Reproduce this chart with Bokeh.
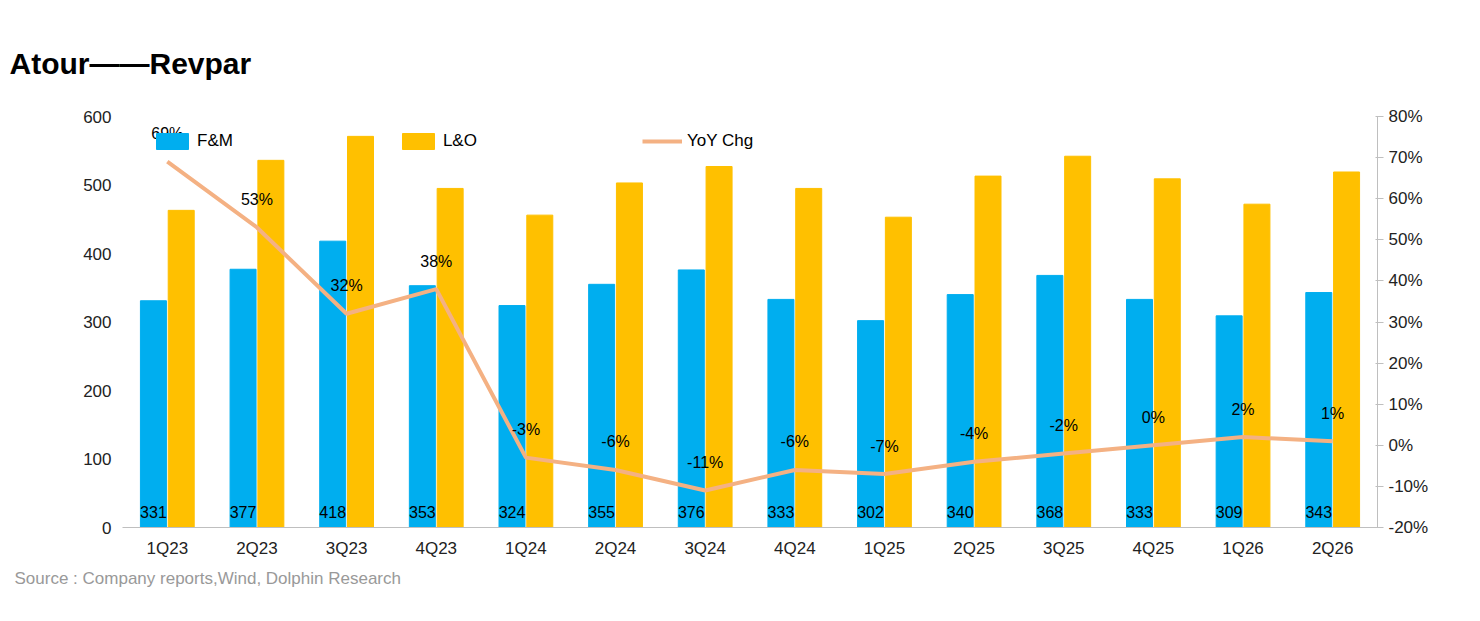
from bokeh.plotting import figure
from bokeh.models import Range1d, LinearAxis, ColumnDataSource, Legend, LegendItem, Title, NumeralTickFormatter, FactorRange
from bokeh.transform import dodge
from bokeh.core.properties import value
from bokeh.embed import file_html
from bokeh.resources import INLINE

quarters = ["1Q23","2Q23","3Q23","4Q23","1Q24","2Q24","3Q24","4Q24","1Q25","2Q25","3Q25","4Q25","1Q26","2Q26"]
fm = [331,377,418,353,324,355,376,333,302,340,368,333,309,343]
lo = [463,536,571,495,456,503,527,495,453,513,542,509,472,519]
yoy = [69,53,32,38,-3,-6,-11,-6,-7,-4,-2,0,2,1]

src = ColumnDataSource(dict(q=quarters, fm=fm, lo=lo, yoy=[v/100 for v in yoy],
    fmlab=[str(v) for v in fm], yoylab=[f"{v}%" for v in yoy]))

FONT = "Helvetica"
p = figure(x_range=FactorRange(*quarters, range_padding=0), y_range=Range1d(0, 600),
           width=1464, height=605, output_backend="svg", toolbar_location=None,
           min_border_left=122, min_border_right=87, min_border_top=116, min_border_bottom=78)
p.outline_line_color = None
p.xgrid.grid_line_color = None
p.ygrid.grid_line_color = None
p.extra_y_ranges = {"pct": Range1d(-0.2, 0.8)}

p.title = Title(text="Atour——Revpar", text_font_size="30px", text_font_style="bold", text_font=FONT,
                text_color="#000000", offset=-113, standoff=70, vertical_align="top")

b1 = p.vbar(x=dodge("q", -0.155, range=p.x_range), top="fm", width=0.29, source=src, color="#00AEEF")
b2 = p.vbar(x=dodge("q", 0.155, range=p.x_range), top="lo", width=0.29, source=src, color="#FFC000")
ln = p.line(x="q", y="yoy", source=src, y_range_name="pct", line_color="#F4B183", line_width=4)

p.text(x=dodge("q", -0.155, range=p.x_range), y=22, text="fmlab", source=src, text_align="center",
       text_baseline="middle", text_font_size="16px", text_font=value(FONT), text_color="#000000")
p.text(x="q", y="yoy", text="yoylab", source=src, y_range_name="pct", y_offset=-28, text_align="center",
       text_baseline="middle", text_font_size="16px", text_font=value(FONT), text_color="#000000")

ax2 = LinearAxis(y_range_name="pct", formatter=NumeralTickFormatter(format="0%"))
ax2.ticker.desired_num_ticks = 10
p.add_layout(ax2, "right")
p.yaxis[0].ticker.desired_num_ticks = 7
for ax in [p.xaxis[0], p.yaxis[0], ax2]:
    ax.major_label_text_font_size = "17px"
    ax.major_label_text_font = FONT
    ax.major_label_text_color = "#222222"
    ax.axis_line_color = "#BFBFBF"
    ax.major_tick_line_color = "#BFBFBF"
    ax.minor_tick_line_color = None
p.yaxis[0].axis_line_color = None
p.yaxis[0].major_tick_line_color = None
p.xaxis[0].major_tick_line_color = None

leg = Legend(items=[LegendItem(label="F&M", renderers=[b1]), LegendItem(label="L&O", renderers=[b2]),
                    LegendItem(label="YoY Chg", renderers=[ln])],
             orientation="horizontal", spacing=165,
             label_text_font_size="17px", label_text_font=FONT, label_text_color="#000000",
             background_fill_alpha=0, border_line_color=None, glyph_width=40)
p.add_layout(leg)
leg.location = (30, 376)

p.add_layout(Title(text="Source : Company reports,Wind, Dolphin Research", text_font_size="17px",
                   text_font=FONT, text_color="#999999", text_font_style="normal", offset=-108, standoff=12), "below")

open("out.html", "w").write(file_html(p, INLINE))
